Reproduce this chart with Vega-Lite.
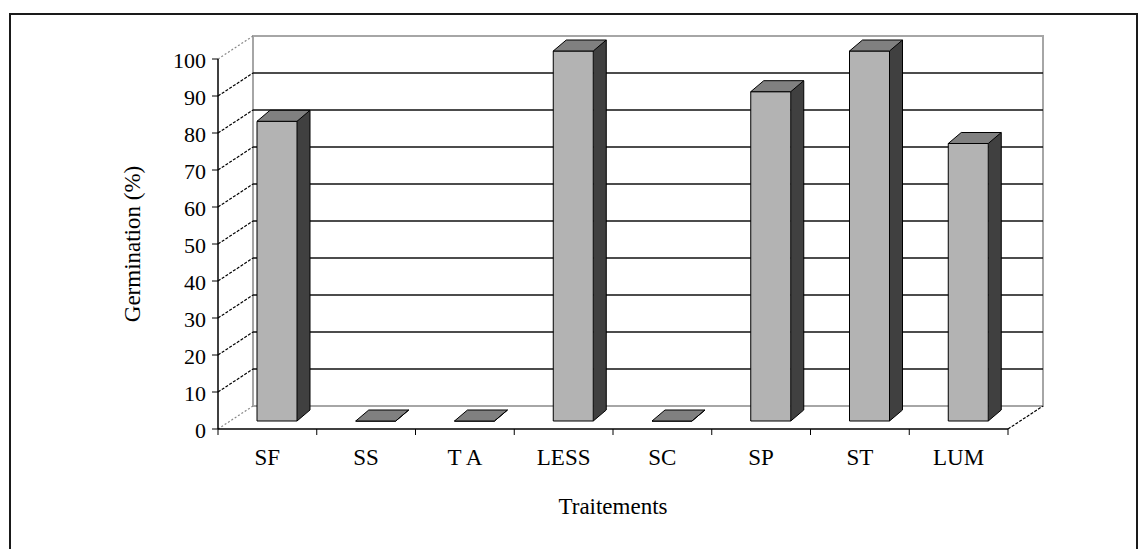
{
  "$schema": "https://vega.github.io/schema/vega-lite/v6.json",
  "width": 1127,
  "height": 535,
  "autosize": {"type": "none"},
  "padding": {"left": 10, "top": 14, "right": 2, "bottom": 0},
  "background": "white",
  "config": {
    "view": {"stroke": "#1a1a1a", "strokeWidth": 2, "strokeDash": [1662, 1127, 545]},
    "font": "Liberation Serif"
  },
  "datasets": {
    "bars": [
      {"t": "SF", "v": 81},
      {"t": "SS", "v": 0},
      {"t": "T A", "v": 0},
      {"t": "LESS", "v": 100},
      {"t": "SC", "v": 0},
      {"t": "SP", "v": 89},
      {"t": "ST", "v": 100},
      {"t": "LUM", "v": 75}
    ],
    "grid": [
      {"g": 0}, {"g": 10}, {"g": 20}, {"g": 30}, {"g": 40}, {"g": 50},
      {"g": 60}, {"g": 70}, {"g": 80}, {"g": 90}, {"g": 100}
    ]
  },
  "encoding": {
    "x": {"type": "quantitative", "axis": null,
          "scale": {"domain": [1, 9], "range": [208, 998], "nice": false, "zero": false}},
    "y": {"type": "quantitative", "axis": null,
          "scale": {"domain": [0, 100], "range": [415, 45], "nice": false, "zero": false}}
  },
  "layer": [
    {
      "description": "back wall",
      "data": {"values": [{}]},
      "mark": {"type": "rect", "fill": "white", "stroke": "#a6a6a6", "strokeWidth": 2,
               "xOffset": 35, "x2Offset": 35, "yOffset": -23, "y2Offset": -23},
      "encoding": {
        "x": {"datum": 1, "type": "quantitative"},
        "x2": {"datum": 9},
        "y": {"datum": 0, "type": "quantitative"},
        "y2": {"datum": 100}
      }
    },
    {
      "description": "gridlines on the back wall",
      "data": {"name": "grid"},
      "transform": [{"filter": "datum.g > 0 && datum.g < 100"}],
      "mark": {"type": "rule", "stroke": "#111", "strokeWidth": 1.6,
               "xOffset": 35, "x2Offset": 35, "yOffset": -23},
      "encoding": {
        "x": {"datum": 1, "type": "quantitative"},
        "x2": {"datum": 9},
        "y": {"field": "g", "type": "quantitative"}
      }
    },
    {
      "description": "gridlines on the side wall",
      "data": {"name": "grid"},
      "transform": [{"filter": "datum.g > 0 && datum.g < 100"}],
      "mark": {"type": "rule", "stroke": "#000", "strokeWidth": 1.2, "strokeDash": [3, 1.5],
               "x2Offset": 35, "y2Offset": -23},
      "encoding": {
        "x": {"datum": 1, "type": "quantitative"},
        "x2": {"datum": 1},
        "y": {"field": "g", "type": "quantitative"},
        "y2": {"field": "g"}
      }
    },
    {
      "description": "side wall edges",
      "data": {"name": "grid"},
      "transform": [{"filter": "datum.g == 0 || datum.g == 100"}],
      "mark": {"type": "rule", "stroke": "#888", "strokeWidth": 1.2, "strokeDash": [2, 2],
               "x2Offset": 35, "y2Offset": -23},
      "encoding": {
        "x": {"datum": 1, "type": "quantitative"},
        "x2": {"datum": 1},
        "y": {"field": "g", "type": "quantitative"},
        "y2": {"field": "g"}
      }
    },
    {
      "description": "right floor edge",
      "data": {"values": [{}]},
      "mark": {"type": "rule", "stroke": "#000", "strokeWidth": 1.2, "strokeDash": [3, 1.5],
               "x2Offset": 35, "y2Offset": -23},
      "encoding": {
        "x": {"datum": 9, "type": "quantitative"},
        "x2": {"datum": 9},
        "y": {"datum": 0, "type": "quantitative"},
        "y2": {"datum": 0}
      }
    },
    {
      "description": "bar side faces",
      "data": {"name": "bars"},
      "transform": [{"window": [{"op": "row_number", "as": "pos"}]}],
      "mark": {"type": "rect", "fill": "#404040",
               "xOffset": 79, "x2Offset": 92, "yOffset": -19, "y2Offset": -8},
      "encoding": {
        "x": {"field": "pos", "type": "quantitative"},
        "x2": {"field": "pos"},
        "y": {"field": "v", "type": "quantitative"},
        "y2": {"datum": 0}
      }
    },
    {
      "description": "floor showing under the slanted foot of each side face",
      "data": {"name": "bars"},
      "transform": [{"window": [{"op": "row_number", "as": "pos"}]}],
      "mark": {"type": "point", "shape": "M78,-7L93,-20L93,-7Z", "size": 4,
               "filled": true, "fill": "white", "strokeWidth": 0, "opacity": 1},
      "encoding": {
        "x": {"field": "pos", "type": "quantitative"},
        "y": {"datum": 0, "type": "quantitative"}
      }
    },
    {
      "description": "bar front faces",
      "data": {"name": "bars"},
      "transform": [{"window": [{"op": "row_number", "as": "pos"}]}],
      "mark": {"type": "rect", "fill": "#b3b3b3", "stroke": "black", "strokeWidth": 1,
               "xOffset": 39, "x2Offset": 79, "yOffset": -8, "y2Offset": -8},
      "encoding": {
        "x": {"field": "pos", "type": "quantitative"},
        "x2": {"field": "pos"},
        "y": {"field": "v", "type": "quantitative"},
        "y2": {"datum": 0}
      }
    },
    {
      "description": "bar top faces",
      "data": {"name": "bars"},
      "transform": [{"window": [{"op": "row_number", "as": "pos"}]}],
      "mark": {"type": "point", "shape": "M39,-8L79,-8L92,-19L52,-19Z", "size": 4,
               "filled": true, "fill": "#808080", "stroke": "black", "strokeWidth": 1, "opacity": 1},
      "encoding": {
        "x": {"field": "pos", "type": "quantitative"},
        "y": {"field": "v", "type": "quantitative"}
      }
    },
    {
      "description": "back edge of the side faces",
      "data": {"name": "bars"},
      "transform": [{"window": [{"op": "row_number", "as": "pos"}]}],
      "mark": {"type": "rule", "stroke": "black", "strokeWidth": 1,
               "xOffset": 92, "yOffset": -19, "y2Offset": -19},
      "encoding": {
        "x": {"field": "pos", "type": "quantitative"},
        "y": {"field": "v", "type": "quantitative"},
        "y2": {"datum": 0}
      }
    },
    {
      "description": "slanted foot of the side faces",
      "data": {"name": "bars"},
      "transform": [{"window": [{"op": "row_number", "as": "pos"}]}],
      "mark": {"type": "point", "shape": "M79,-8L92,-19", "size": 4,
               "filled": false, "stroke": "black", "strokeWidth": 1, "opacity": 1},
      "encoding": {
        "x": {"field": "pos", "type": "quantitative"},
        "y": {"datum": 0, "type": "quantitative"}
      }
    },
    {
      "description": "value axis line",
      "data": {"values": [{}]},
      "mark": {"type": "rule", "stroke": "black", "strokeWidth": 1.5},
      "encoding": {
        "x": {"datum": 1, "type": "quantitative"},
        "y": {"datum": 0, "type": "quantitative"},
        "y2": {"datum": 100}
      }
    },
    {
      "description": "category axis line",
      "data": {"values": [{}]},
      "mark": {"type": "rule", "stroke": "black", "strokeWidth": 1.5},
      "encoding": {
        "x": {"datum": 1, "type": "quantitative"},
        "x2": {"datum": 9},
        "y": {"datum": 0, "type": "quantitative"}
      }
    },
    {
      "description": "value axis ticks",
      "data": {"name": "grid"},
      "mark": {"type": "rule", "stroke": "black", "strokeWidth": 1, "x2Offset": -6},
      "encoding": {
        "x": {"datum": 1, "type": "quantitative"},
        "x2": {"datum": 1},
        "y": {"field": "g", "type": "quantitative"}
      }
    },
    {
      "description": "value axis labels",
      "data": {"name": "grid"},
      "mark": {"type": "text", "font": "Liberation Serif", "fontSize": 22, "fill": "black",
               "align": "right", "baseline": "middle", "xOffset": -12, "yOffset": 2},
      "encoding": {
        "x": {"datum": 1, "type": "quantitative"},
        "y": {"field": "g", "type": "quantitative"},
        "text": {"field": "g", "type": "quantitative"}
      }
    },
    {
      "description": "category axis ticks at the start of each category",
      "data": {"name": "bars"},
      "transform": [{"window": [{"op": "row_number", "as": "pos"}]}],
      "mark": {"type": "rule", "stroke": "black", "strokeWidth": 1, "y2Offset": 6},
      "encoding": {
        "x": {"field": "pos", "type": "quantitative"},
        "y": {"datum": 0, "type": "quantitative"},
        "y2": {"datum": 0}
      }
    },
    {
      "description": "closing category axis tick",
      "data": {"values": [{}]},
      "mark": {"type": "rule", "stroke": "black", "strokeWidth": 1, "y2Offset": 6},
      "encoding": {
        "x": {"datum": 9, "type": "quantitative"},
        "y": {"datum": 0, "type": "quantitative"},
        "y2": {"datum": 0}
      }
    },
    {
      "description": "category labels",
      "data": {"name": "bars"},
      "transform": [{"window": [{"op": "row_number", "as": "pos"}]}],
      "mark": {"type": "text", "font": "Liberation Serif", "fontSize": 23, "fill": "black",
               "align": "center", "baseline": "middle", "xOffset": 49.375, "yOffset": 29},
      "encoding": {
        "x": {"field": "pos", "type": "quantitative"},
        "y": {"datum": 0, "type": "quantitative"},
        "text": {"field": "t"}
      }
    },
    {
      "description": "category axis title",
      "data": {"values": [{}]},
      "mark": {"type": "text", "font": "Liberation Serif", "fontSize": 23, "fill": "black",
               "align": "center", "baseline": "middle", "yOffset": 78},
      "encoding": {
        "x": {"datum": 5, "type": "quantitative"},
        "y": {"datum": 0, "type": "quantitative"},
        "text": {"value": "Traitements"}
      }
    },
    {
      "description": "value axis title",
      "data": {"values": [{}]},
      "mark": {"type": "text", "font": "Liberation Serif", "fontSize": 23, "fill": "black",
               "align": "center", "baseline": "middle", "angle": 270, "xOffset": -85},
      "encoding": {
        "x": {"datum": 1, "type": "quantitative"},
        "y": {"datum": 50, "type": "quantitative"},
        "text": {"value": "Germination (%)"}
      }
    }
  ]
}
